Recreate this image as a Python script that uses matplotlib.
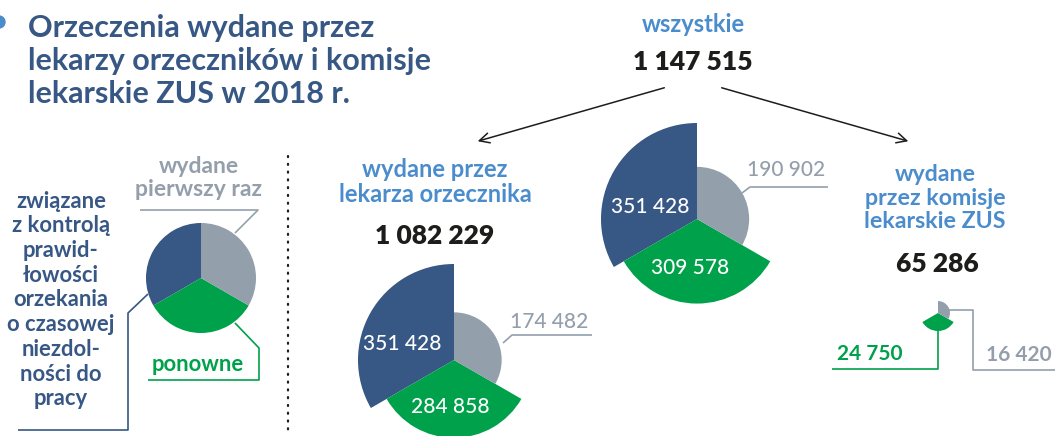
import matplotlib
matplotlib.use('Agg')
import matplotlib.pyplot as plt
from matplotlib.patches import Wedge, Circle
import numpy as np

plt.rcParams['font.family'] = ['Lato', 'DejaVu Sans']

# data (order: blue, green, gray)
categories = ['związane z kontrolą prawidłowości orzekania o czasowej niezdolności do pracy',
              'ponowne', 'wydane pierwszy raz']
wszystkie = [351428, 309578, 190902]
lekarz = [351428, 284858, 174482]
komisje = [0, 24750, 16420]
total_all = 1147515
total_lekarz = 1082229
total_komisje = 65286

BLUE = '#375784'
GREEN = '#00a14b'
GRAY = '#949fac'
LBLUE = '#4a8ccc'
DARK = '#1d1d1b'
colors = [BLUE, GREEN, GRAY]
# visual angles (counterclockwise, degrees) for each sector
angles = [(90, 210), (210, 330), (-30, 90)]

W, H = 1055, 436
fig = plt.figure(figsize=(W / 100, H / 100), dpi=100)
ax = fig.add_axes([0, 0, 1, 1])
ax.set_xlim(0, W)
ax.set_ylim(H, 0)
ax.set_aspect('equal')
ax.axis('off')


def fmt(v):
    return f'{v:,}'.replace(',', ' ')


def rose(cx, cy, values, scale):
    # y axis is inverted, so visual angle a -> data angle -a
    for v, c, (a1, a2) in zip(values, colors, angles):
        if v <= 0:
            continue
        ax.add_patch(Wedge((cx, cy), v * scale, -a2, -a1, facecolor=c, edgecolor='none'))


def line(xs, ys, c, lw=1.2):
    ax.plot(xs, ys, color=c, lw=lw, solid_capstyle='butt')


# title
ax.add_patch(Circle((-1, 22), 6, color=LBLUE))
ax.text(28, 61, 'Orzeczenia wydane przez\nlekarzy orzeczników i komisje\nlekarskie ZUS w 2018 r.',
        fontsize=22, fontweight='bold', color=BLUE, ha='left', va='center', linespacing=1.2)

# left legend pie
ax.add_patch(Wedge((201, 278), 55, -210, -90, facecolor=BLUE))
ax.add_patch(Wedge((201, 278), 55, -330, -210, facecolor=GREEN))
ax.add_patch(Wedge((201, 278), 55, -90, 30, facecolor=GRAY))
ax.text(199, 178, 'wydane\npierwszy raz', fontsize=16.5, fontweight='bold', color=GRAY,
        ha='center', va='center', linespacing=1.15)
line([140, 258, 235], [210, 210, 233], GRAY)
ax.text(61, 300, 'związane\nz kontrolą\nprawid-\nłowości\norzekania\no czasowej\nniezdol-\nności do\npracy',
        fontsize=15.8, fontweight='bold', color=BLUE, ha='center', va='center', linespacing=1.22)
line([148, 128, 128, 18], [294, 313, 430, 430], BLUE)
ax.text(198, 364, 'ponowne', fontsize=15.8, fontweight='bold', color=GREEN, ha='center', va='center')
line([235, 259, 259, 148], [323, 348, 380, 380], GREEN)

# dotted separator
ax.plot(np.full(2, 288), [156, 436], color=DARK, lw=1.6, ls=(0, (0.5, 3)), dash_capstyle='round')

# header
ax.text(693, 25, 'wszystkie', fontsize=17, fontweight='bold', color=LBLUE, ha='center', va='center')
ax.text(693, 62, fmt(total_all), fontsize=19, fontweight='heavy', color=DARK, ha='center', va='center')
ax.annotate('', xy=(475, 142), xytext=(667, 87),
            arrowprops=dict(arrowstyle='->', color=DARK, lw=1.1, mutation_scale=18))
ax.annotate('', xy=(911, 142), xytext=(719, 87),
            arrowprops=dict(arrowstyle='->', color=DARK, lw=1.1, mutation_scale=18))

scale_big = 96 / wszystkie[0]

# middle chart: wszystkie
rose(697, 219, wszystkie, scale_big)
ax.text(650, 207, fmt(wszystkie[0]), fontsize=15, fontweight='medium', color='white', ha='center', va='center')
ax.text(690, 268, fmt(wszystkie[1]), fontsize=15, fontweight='medium', color='white', ha='center', va='center')
ax.text(786, 170, fmt(wszystkie[2]), fontsize=15, fontweight='medium', color=GRAY, ha='center', va='center')
line([742, 750, 828], [193, 187, 187], GRAY)

# lekarz chart
ax.text(435, 182, 'wydane przez\nlekarza orzecznika', fontsize=17, fontweight='bold', color=LBLUE,
        ha='center', va='center', linespacing=1.1)
ax.text(435, 236, fmt(total_lekarz), fontsize=19, fontweight='heavy', color=DARK, ha='center', va='center')
rose(454, 360, lekarz, scale_big)
ax.text(402, 344, fmt(lekarz[0]), fontsize=15, fontweight='medium', color='white', ha='center', va='center')
ax.text(450, 407, fmt(lekarz[1]), fontsize=15, fontweight='medium', color='white', ha='center', va='center')
ax.text(549, 322, fmt(lekarz[2]), fontsize=15, fontweight='medium', color=GRAY, ha='center', va='center')
line([503, 512, 592], [343, 335, 335], GRAY)

# komisje chart
ax.text(935, 198, 'wydane\nprzez komisje\nlekarskie ZUS', fontsize=16.7, fontweight='bold', color=LBLUE,
        ha='center', va='center', linespacing=1.12)
ax.text(937, 264, fmt(total_komisje), fontsize=19, fontweight='heavy', color=DARK, ha='center', va='center')
rose(938, 313, komisje, 18 / komisje[1])
ax.text(870, 354, fmt(komisje[1]), fontsize=15, fontweight='bold', color=GREEN, ha='center', va='center')
line([938, 938, 832], [331, 369, 369], GREEN)
ax.text(1019, 355, fmt(komisje[2]), fontsize=15, fontweight='bold', color=GRAY, ha='center', va='center')
line([948, 973, 973, 1055], [310, 310, 370, 370], GRAY)

fig.savefig('out.png', dpi=100)
